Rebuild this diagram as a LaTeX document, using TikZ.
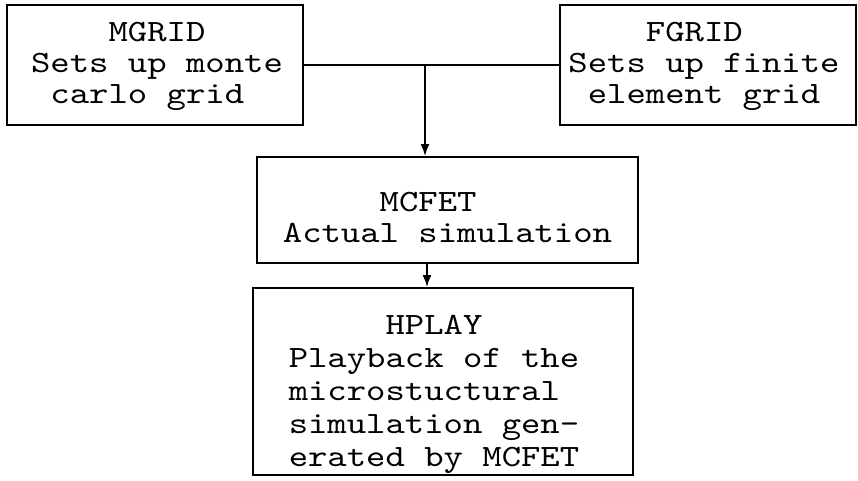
\documentclass[tikz,border=0pt]{standalone}
\usepackage{fontspec}
\setmonofont[FakeStretch=1.19]{lmmono10-regular.otf}
\usetikzlibrary{arrows.meta}
\begin{document}
\begin{tikzpicture}[x=1pt,y=-1pt,
  box/.style={draw, line width=2pt, inner sep=0pt},
  txt/.style={align=left, inner sep=0pt,
    font=\ttfamily\fontsize{31}{31}\selectfont},
  conn/.style={line width=1.6pt},
  arr/.style={line width=1.6pt, -{Latex[length=12pt,width=9pt]}}]
\useasboundingbox (0,0) rectangle (858,480);
\node[box, minimum width=296pt, minimum height=120pt] (mgrid) at (155,65) {};
\node[box, minimum width=296pt, minimum height=120pt] (fgrid) at (708,65) {};
\node[box, minimum width=381pt, minimum height=106pt] (mcfet) at (447.5,210) {};
\node[box, minimum width=380pt, minimum height=187pt] (hplay) at (443,381.5) {};
\node[txt] (mgridt) at ([xshift=2pt,yshift=-1pt]mgrid.center)
  {\hspace*{4\fontcharwd\font`M}MGRID\\Sets up monte\\\hspace*{1\fontcharwd\font`M}carlo grid};
\node[txt] (fgridt) at ([xshift=-4pt,yshift=-1pt]fgrid.center)
  {\hspace*{4\fontcharwd\font`M}FGRID\\Sets up finite\\\hspace*{1\fontcharwd\font`M}element grid};
\node[txt] (mcfett) at ([yshift=-7pt]mcfet.center)
  {\hspace*{5\fontcharwd\font`M}MCFET\\Actual simulation};
\node[txt, font=\ttfamily\fontsize{31}{33}\selectfont] (hplayt) at ([xshift=-9pt,yshift=-13pt]hplay.center)
  {\hspace*{5\fontcharwd\font`M}HPLAY\\Playback of the\\microstuctural\\simulation gen-\\erated by MCFET};
\coordinate (j) at (425,0);
\coordinate (k) at (427,0);
\draw[conn] (mgrid.east) -- (fgrid.west);
\draw[arr] (j |- mgrid.east) -- (j |- mcfet.north);
\draw[arr] (k |- mcfet.south) -- (k |- hplay.north);
\end{tikzpicture}
\end{document}
